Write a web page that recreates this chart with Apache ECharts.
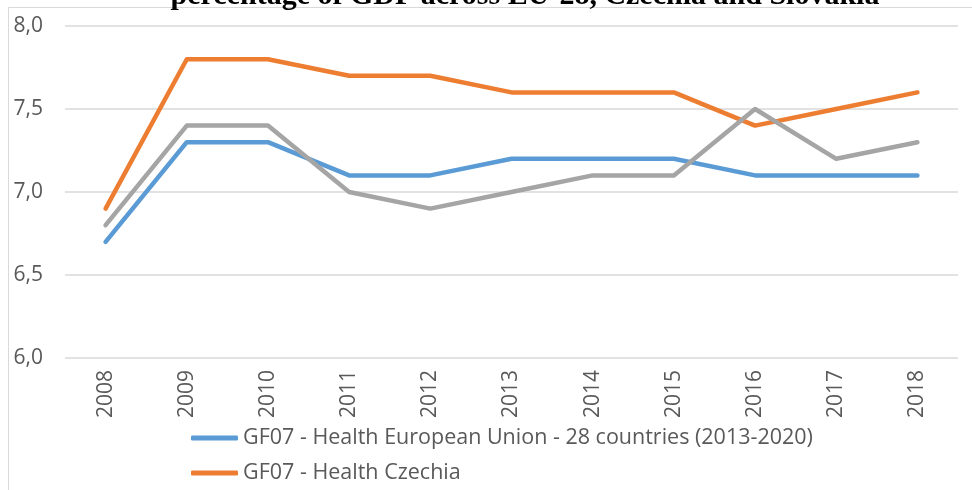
<!DOCTYPE html>
<html>
<head>
    <meta charset="utf-8">
    <title>GF07 - Health</title>
    <script src="https://cdn.jsdelivr.net/npm/echarts@6/dist/echarts.min.js"></script>
    <style type="text/css">
        html, body {
            margin: 0;
            padding: 0;
            background: #ffffff;
        }
        #chart {
            width: 972px;
            height: 490px;
        }
    </style>
</head>
<body>
<div id="chart"></div>
<script>
    // years on the x axis
    var years = ['2008', '2009', '2010', '2011', '2012', '2013', '2014', '2015', '2016', '2017', '2018'];
    var seriesNames = [
        'GF07 - Health European Union - 28 countries (2013-2020)',
        'GF07 - Health Czechia',
        'GF07 - Health Slovakia'
    ];
    // % of GDP
    var euValues = [6.7, 7.3, 7.3, 7.1, 7.1, 7.2, 7.2, 7.2, 7.1, 7.1, 7.1];
    var czValues = [6.9, 7.8, 7.8, 7.7, 7.7, 7.6, 7.6, 7.6, 7.4, 7.5, 7.6];
    var skValues = [6.8, 7.4, 7.4, 7.0, 6.9, 7.0, 7.1, 7.1, 7.5, 7.2, 7.3];
    var colors = ['#5B9BD5', '#ED7D31', '#A5A5A5'];

    var chart = echarts.init(document.getElementById('chart'));

    function makeLine(name, data, color) {
        return {
            name: name,
            type: 'line',
            data: data,
            symbol: 'none',
            lineStyle: {width: 4.5, color: color, cap: 'round', join: 'round'},
            itemStyle: {color: color},
            z: 3
        };
    }

    var legendText = {
        fontFamily: 'Open Sans',
        fontSize: 21.5,
        color: '#595959'
    };

    var option = {
        animation: false,
        color: colors,
        graphic: [
            {
                type: 'rect',
                shape: {x: 8.5, y: 7.5, width: 1000, height: 600},
                style: {fill: 'none', stroke: '#d9d9d9', lineWidth: 1},
                silent: true,
                z: -1
            },
            {
                // title is cut off by the top edge in the original
                type: 'text',
                x: 525,
                y: 11,
                style: {
                    text: 'percentage of GDP across EU-28, Czechia and Slovakia',
                    font: 'bold 30px "Liberation Serif", "DejaVu Serif", serif',
                    fill: '#000000',
                    textAlign: 'center',
                    textVerticalAlign: 'bottom'
                }
            }
        ],
        grid: {
            left: 65,
            right: 14,
            top: 26,
            bottom: 132
        },
        legend: [
            {
                orient: 'vertical',
                left: 186,
                top: 422,
                icon: 'roundRect',
                itemWidth: 47,
                itemHeight: 5,
                itemGap: 13,
                textStyle: legendText,
                data: [seriesNames[0], seriesNames[1]]
            },
            {
                // third entry falls below the visible area
                orient: 'vertical',
                left: 186,
                top: 495,
                icon: 'roundRect',
                itemWidth: 47,
                itemHeight: 5,
                textStyle: legendText,
                data: [seriesNames[2]]
            }
        ],
        xAxis: {
            type: 'category',
            data: years,
            boundaryGap: true,
            axisLine: {show: false},
            axisTick: {show: false},
            axisLabel: {
                rotate: 90,
                margin: 12,
                fontFamily: 'Open Sans',
                fontSize: 21,
                color: '#595959'
            }
        },
        yAxis: {
            type: 'value',
            min: 6,
            max: 8,
            interval: 0.5,
            axisLine: {show: false},
            axisTick: {show: false},
            splitLine: {lineStyle: {color: '#d9d9d9', width: 1.5}},
            axisLabel: {
                margin: 22,
                fontFamily: 'Open Sans',
                fontSize: 21,
                color: '#595959',
                formatter: function (v) {
                    return v.toFixed(1).replace('.', ',');
                }
            }
        },
        series: [
            makeLine(seriesNames[0], euValues, colors[0]),
            makeLine(seriesNames[1], czValues, colors[1]),
            makeLine(seriesNames[2], skValues, colors[2])
        ]
    };

    chart.setOption(option);
</script>
</body>
</html>
